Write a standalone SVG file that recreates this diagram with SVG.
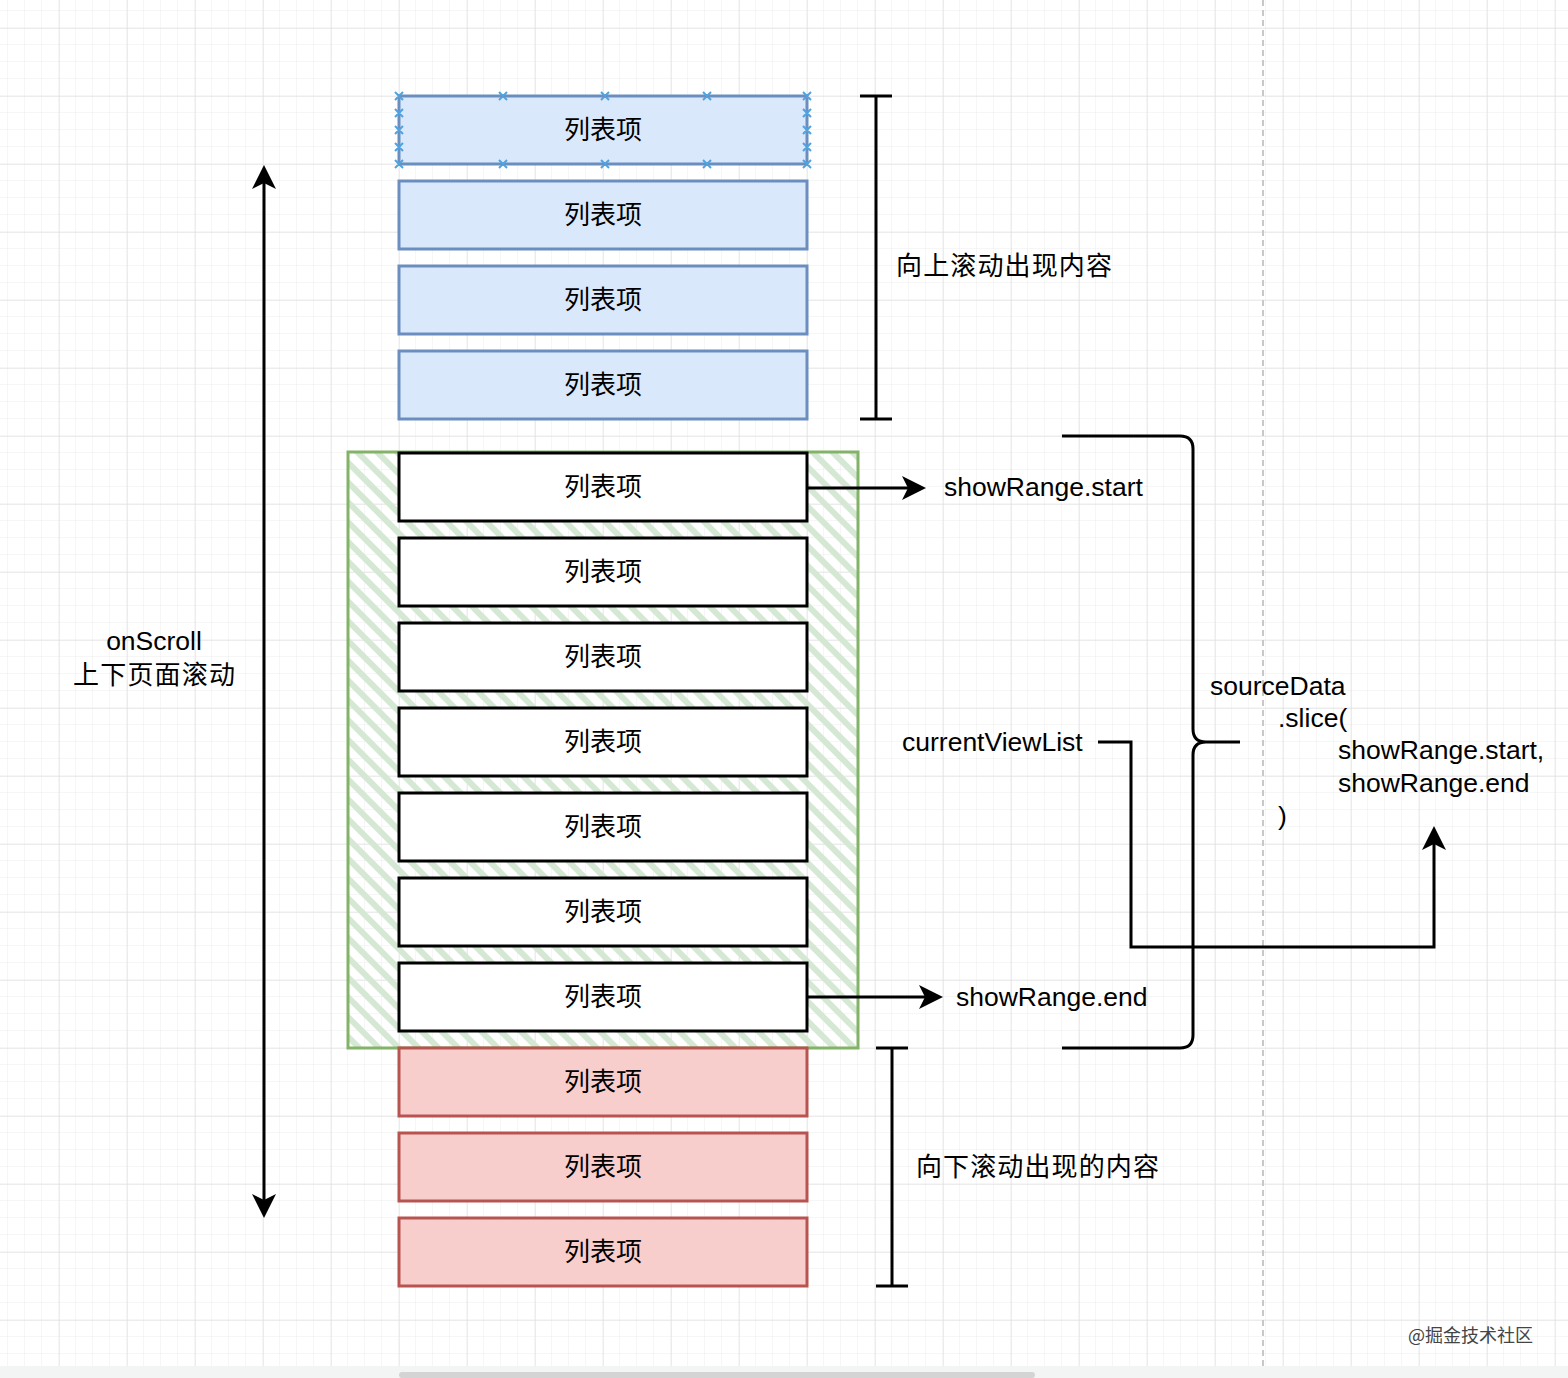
<svg xmlns="http://www.w3.org/2000/svg" width="1568" height="1378" viewBox="0 0 1568 1378">
<defs>
<pattern id="minor" width="17" height="17" patternUnits="userSpaceOnUse" x="8" y="11"><path d="M17 0V17M0 17H17" fill="none" stroke="#ececec" stroke-width="1"/></pattern>
<pattern id="major" width="68" height="68" patternUnits="userSpaceOnUse" x="59" y="28"><path d="M0 0V68M0 0H68" fill="none" stroke="#d9d9d9" stroke-width="1"/></pattern>
<pattern id="hatch" width="14" height="14" patternUnits="userSpaceOnUse" patternTransform="rotate(-45)"><rect width="6" height="14" fill="#d5e8d4"/></pattern>
<marker id="arrL" markerWidth="26" markerHeight="28" refX="18" refY="14" orient="auto-start-reverse" markerUnits="userSpaceOnUse"><path d="M0 2L24 14L0 26L6 14Z" fill="#000"/></marker>
</defs>
<style>
.t{font-family:"Noto Sans CJK SC","Liberation Sans",sans-serif;font-size:26px;fill:#000}
.e{font-family:"Liberation Sans","Noto Sans CJK SC",sans-serif;font-size:26.5px;fill:#000}
.blue rect{fill:#dae8fc;stroke:#6c8ebf;stroke-width:3}
.white rect{fill:#fff;stroke:#000;stroke-width:3}
.red rect{fill:#f8cecc;stroke:#b85450;stroke-width:3}
.ln{fill:none;stroke:#000;stroke-width:3}
.x{stroke:#4ea3e0;stroke-width:2;fill:none}
</style>
<rect width="1568" height="1378" fill="#fff"/>
<rect width="1568" height="1366" fill="url(#minor)"/>
<rect width="1568" height="1366" fill="url(#major)"/>
<line x1="1263" y1="0" x2="1263" y2="1366" stroke="#c8c8c8" stroke-width="2" stroke-dasharray="6 4"/>
<rect x="0" y="1366" width="1568" height="12" fill="#f3f5f5"/>
<rect x="399" y="1372" width="636" height="6" rx="3" fill="#d4d4d4"/>
<g id="green"><rect x="348" y="452" width="510" height="596" fill="url(#hatch)" stroke="#82b366" stroke-width="3"/></g>
<g id="n1" class="blue"><rect x="399" y="96" width="408" height="68"/><text class="t" x="603" y="139" text-anchor="middle">列表项</text></g>
<g id="sel" class="x">
<path d="M395 92l8 8M403 92l-8 8M499 92l8 8M507 92l-8 8M601 92l8 8M609 92l-8 8M703 92l8 8M711 92l-8 8M803 92l8 8M811 92l-8 8M395 160l8 8M403 160l-8 8M499 160l8 8M507 160l-8 8M601 160l8 8M609 160l-8 8M703 160l8 8M711 160l-8 8M803 160l8 8M811 160l-8 8M395 109l8 8M403 109l-8 8M395 126l8 8M403 126l-8 8M395 143l8 8M403 143l-8 8M803 109l8 8M811 109l-8 8M803 126l8 8M811 126l-8 8M803 143l8 8M811 143l-8 8"/>
</g>
<g id="n2" class="blue"><rect x="399" y="181" width="408" height="68"/><text class="t" x="603" y="224" text-anchor="middle">列表项</text></g>
<g id="n3" class="blue"><rect x="399" y="266" width="408" height="68"/><text class="t" x="603" y="309" text-anchor="middle">列表项</text></g>
<g id="n4" class="blue"><rect x="399" y="351" width="408" height="68"/><text class="t" x="603" y="394" text-anchor="middle">列表项</text></g>
<g id="n5" class="white"><rect x="399" y="453" width="408" height="68"/><text class="t" x="603" y="496" text-anchor="middle">列表项</text></g>
<g id="n6" class="white"><rect x="399" y="538" width="408" height="68"/><text class="t" x="603" y="581" text-anchor="middle">列表项</text></g>
<g id="n7" class="white"><rect x="399" y="623" width="408" height="68"/><text class="t" x="603" y="666" text-anchor="middle">列表项</text></g>
<g id="n8" class="white"><rect x="399" y="708" width="408" height="68"/><text class="t" x="603" y="751" text-anchor="middle">列表项</text></g>
<g id="n9" class="white"><rect x="399" y="793" width="408" height="68"/><text class="t" x="603" y="836" text-anchor="middle">列表项</text></g>
<g id="n10" class="white"><rect x="399" y="878" width="408" height="68"/><text class="t" x="603" y="921" text-anchor="middle">列表项</text></g>
<g id="n11" class="white"><rect x="399" y="963" width="408" height="68"/><text class="t" x="603" y="1006" text-anchor="middle">列表项</text></g>
<g id="n12" class="red"><rect x="399" y="1048" width="408" height="68"/><text class="t" x="603" y="1091" text-anchor="middle">列表项</text></g>
<g id="n13" class="red"><rect x="399" y="1133" width="408" height="68"/><text class="t" x="603" y="1176" text-anchor="middle">列表项</text></g>
<g id="n14" class="red"><rect x="399" y="1218" width="408" height="68"/><text class="t" x="603" y="1261" text-anchor="middle">列表项</text></g>
<g id="labels">
<text class="t" x="896" y="275" textLength="216">向上滚动出现内容</text>
<text class="t" x="916" y="1176" textLength="243">向下滚动出现的内容</text>
<text class="e" x="154" y="650" text-anchor="middle">onScroll</text>
<text class="t" x="154" y="684" text-anchor="middle" textLength="162">上下页面滚动</text>
<text class="e" x="944" y="496">showRange.start</text>
<text class="e" x="956" y="1006">showRange.end</text>
<text class="e" x="902" y="751">currentViewList</text>
<text class="e" x="1210" y="695">sourceData</text>
<text class="e" x="1278" y="727">.slice(</text>
<text class="e" x="1338" y="759">showRange.start,</text>
<text class="e" x="1338" y="792">showRange.end</text>
<text class="e" x="1278" y="825">)</text>
<text x="1408" y="1342" font-family="Noto Sans CJK SC,sans-serif" font-size="18" fill="#444">@掘金技术社区</text>
</g>
<g id="connectors">
<path class="ln" d="M876 96V419M860 96H892M860 419H892"/>
<path class="ln" d="M892 1048V1286M876 1048H908M876 1286H908"/>
<line class="ln" x1="264" y1="171" x2="264" y2="1212" marker-start="url(#arrL)" marker-end="url(#arrL)"/>
<line class="ln" x1="807" y1="488" x2="920" y2="488" marker-end="url(#arrL)"/>
<line class="ln" x1="807" y1="997" x2="937" y2="997" marker-end="url(#arrL)"/>
<path class="ln" d="M1062 436H1180Q1193 436 1193 449V729Q1193 742 1206 742H1240M1206 742Q1193 742 1193 755V1035Q1193 1048 1180 1048H1062"/>
<path class="ln" d="M1098 742H1131V947H1434V832" marker-end="url(#arrL)"/>
</g>
</svg>
